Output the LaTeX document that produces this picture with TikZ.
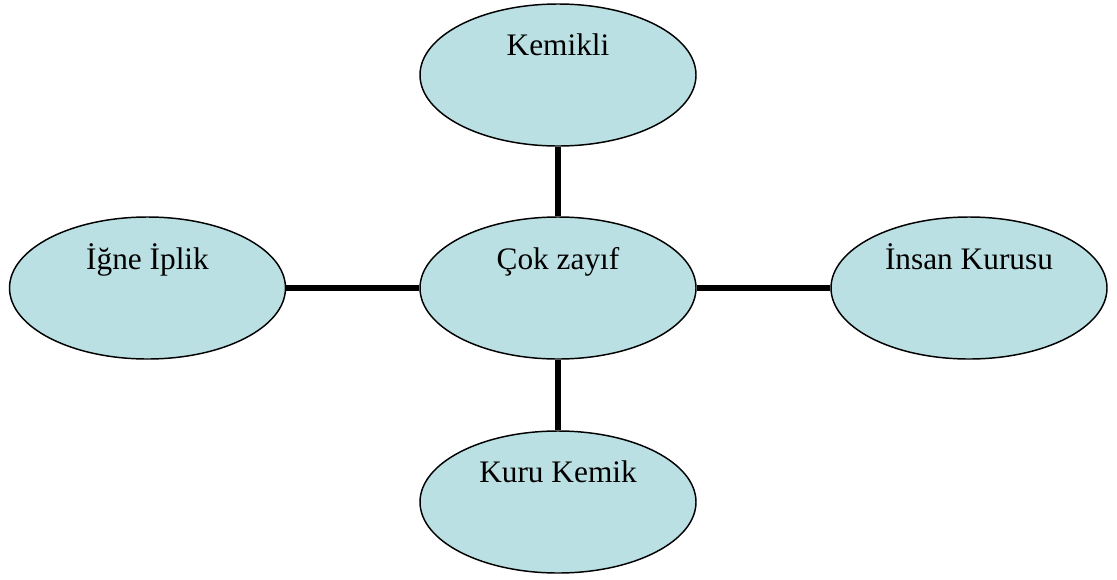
\documentclass[tikz,border=0pt]{standalone}
\usepackage{fontspec}
\setmainfont{Liberation Serif}
\usetikzlibrary{shapes.geometric}
\definecolor{bubble}{HTML}{BBE0E3}
\begin{document}
\begin{tikzpicture}[x=0.75pt,y=-0.75pt,
  ell/.style={ellipse,draw=black,line width=1.1pt,fill=bubble,inner sep=0pt,
    minimum width=207pt,minimum height=106.5pt},
  lbl/.style={anchor=base,inner sep=0pt,font=\fontsize{23.5pt}{28pt}\selectfont},
  link/.style={line width=3.8pt,black}]
\useasboundingbox (0,0) rectangle (1117,579);
\node[ell] (kem) at (558,75) {};
\node[ell] (cok) at (558,288) {};
\node[ell] (ign) at (147.5,288) {};
\node[ell] (ins) at (969,288) {};
\node[ell] (kur) at (558,502) {};
\node[lbl] (kemt) at (558,55) {Kemikli};
\node[lbl] (cokt) at (558,269) {Çok zayıf};
\node[lbl] (ignt) at (147.5,269) {İğne İplik};
\node[lbl] (inst) at (969,269) {İnsan Kurusu};
\node[lbl] (kurt) at (558,482) {Kuru Kemik};
\draw[link] (kem) -- (cok);
\draw[link] (cok) -- (kur);
\draw[link] (ign) -- (cok);
\draw[link] (cok) -- (ins);
\end{tikzpicture}
\end{document}
